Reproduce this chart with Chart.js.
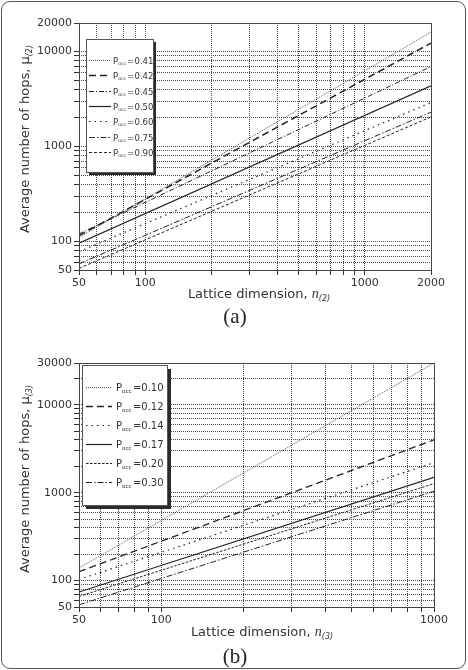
<!DOCTYPE html>
<html>
<head>
<meta charset="utf-8">
<script src="https://cdn.jsdelivr.net/npm/chart.js"></script>
<style>
  body { margin: 0; background: #fff; }
  #page { position: relative; width: 468px; height: 670px; overflow: hidden; font-family: 'DejaVu Sans', sans-serif; color: #333; }
  #outline { position: absolute; left: 1px; top: 1px; width: 463px; height: 666px; border: 1.5px solid #555; border-radius: 9px; }
  canvas { position: absolute; left: 0; }
  .ytitle { position: absolute; transform: translate(-50%, -50%) rotate(-90deg); white-space: nowrap; font-size: 13px; }
  .xtitle { position: absolute; transform: translateX(-50%); white-space: nowrap; font-size: 13px; line-height: 15px; }
  .ytitle sub, .xtitle sub { font-size: 8px; font-style: italic; vertical-align: -3px; }
  .xtitle i { font-family: 'Liberation Serif', serif; font-size: 14px; }
  .panel { position: absolute; transform: translateX(-50%); font-family: 'Liberation Serif', serif; font-size: 21px; line-height: 22px; color: #222; }
</style>
</head>
<body>
<div id="page">
  <canvas id="chartA" width="468" height="300" style="top:0"></canvas>
  <canvas id="chartB" width="468" height="370" style="top:300px"></canvas>
  <div class="ytitle" style="left:25px; top:139px">Average number of hops, &mu;<sub>(2)</sub></div>
  <div class="xtitle" style="left:259px; top:286px">Lattice dimension, <i>n</i><sub>(2)</sub></div>
  <div class="panel" style="left:235px; top:305px">(a)</div>
  <div class="ytitle" style="left:25px; top:479px">Average number of hops, &mu;<sub>(3)</sub></div>
  <div class="xtitle" style="left:262px; top:624px">Lattice dimension, <i>n</i><sub>(3)</sub></div>
  <div class="panel" style="left:235px; top:645px">(b)</div>
  <div id="outline"></div>
</div>
<script>
// (a) two-dimensional lattice
var nA = [50, 2000]
var poccA = ['0.41', '0.42', '0.45', '0.50', '0.60', '0.75', '0.90']
var hopsA_041 = [110, 16000]
var hopsA_042 = [115, 12300]
var hopsA_045 = [120, 6950]
var hopsA_050 = [96, 4350]
var hopsA_060 = [78, 2900]
var hopsA_075 = [58, 2300]
var hopsA_090 = [52, 2050]
var xTicksA = [50, 60, 70, 80, 90, 100, 200, 300, 400, 500, 600, 700, 800, 900, 1000, 2000]
var xLabelsA = [50, 100, 1000, 2000]
var yTicksA = [50, 60, 70, 80, 90, 100, 200, 300, 400, 500, 600, 700, 800, 900,
  1000, 2000, 3000, 4000, 5000, 6000, 7000, 8000, 9000, 10000, 20000]
var yLabelsA = [50, 100, 1000, 10000, 20000]

// (b) three-dimensional lattice
var nB = [50, 1000]
var poccB = ['0.10', '0.12', '0.14', '0.17', '0.20', '0.30']
var hopsB_010 = [139, 30000]
var hopsB_012 = [126, 4000]
var hopsB_014 = [103, 2200]
var hopsB_017 = [74, 1500]
var hopsB_020 = [66, 1270]
var hopsB_030 = [53, 1040]
var xTicksB = [50, 60, 70, 80, 90, 100, 200, 300, 400, 500, 600, 700, 800, 900, 1000]
var xLabelsB = [50, 100, 1000]
var yTicksB = [50, 60, 70, 80, 90, 100, 200, 300, 400, 500, 600, 700, 800, 900,
  1000, 2000, 3000, 4000, 5000, 6000, 7000, 8000, 9000, 10000, 20000, 30000]
var yLabelsB = [50, 100, 1000, 10000, 30000]

function points(xs, ys) {
  return xs.map(function(x, i) { return {x: x, y: ys[i]} })
}

function series(label, xs, ys, dash, color, width) {
  return {
    label: label,
    data: points(xs, ys),
    showLine: true,
    pointRadius: 0,
    borderColor: color,
    borderWidth: width,
    borderDash: dash,
    fill: false
  }
}

var framePlugin = {
  id: 'frame',
  afterDatasetsDraw: function(chart) {
    var a = chart.chartArea, ctx = chart.ctx
    ctx.save()
    ctx.strokeStyle = '#444'
    ctx.lineWidth = 1
    ctx.setLineDash([])
    ctx.strokeRect(Math.round(a.left) + 0.5, Math.round(a.top) + 0.5,
      Math.round(a.right - a.left), Math.round(a.bottom - a.top))
    ctx.restore()
  }
}

var boxLegendPlugin = {
  id: 'boxLegend',
  afterDraw: function(chart, args, o) {
    var ctx = chart.ctx, a = chart.chartArea
    var x = a.left + o.dx, y = a.top + o.dy
    ctx.save()
    ctx.fillStyle = '#2a2a2a'
    ctx.fillRect(x + o.shadow, y + o.shadow, o.w, o.h)
    ctx.fillStyle = '#fff'
    ctx.fillRect(x, y, o.w, o.h)
    ctx.strokeStyle = '#555'
    ctx.lineWidth = 1
    ctx.strokeRect(x + 0.5, y + 0.5, o.w, o.h)
    chart.data.datasets.forEach(function(ds, i) {
      var cy = Math.round(y + o.first + i * o.gap) + 0.5
      ctx.beginPath()
      ctx.setLineDash(ds.borderDash)
      ctx.strokeStyle = ds.borderColor
      ctx.lineWidth = ds.borderWidth
      ctx.moveTo(x + o.lineX0, cy)
      ctx.lineTo(x + o.lineX1, cy)
      ctx.stroke()
      ctx.setLineDash([])
      ctx.fillStyle = '#333'
      ctx.textBaseline = 'alphabetic'
      var tx = x + o.textX, base = cy + o.size * 0.36
      ctx.font = o.size + 'px "DejaVu Sans"'
      ctx.fillText('P', tx, base)
      tx += ctx.measureText('P').width
      ctx.font = (o.size * 0.55) + 'px "DejaVu Sans"'
      ctx.fillText('occ', tx, base + o.size * 0.2)
      tx += ctx.measureText('occ').width + o.size * 0.15
      ctx.font = o.size + 'px "DejaVu Sans"'
      ctx.fillText('=' + ds.label, tx, base)
    })
    ctx.restore()
  }
}

function logAxis(ticks, labels, min, max, fit) {
  return {
    type: 'logarithmic',
    min: min,
    max: max,
    afterBuildTicks: function(scale) {
      scale.ticks = ticks.map(function(v) { return {value: v} })
    },
    afterFit: fit,
    ticks: {
      autoSkip: false,
      maxRotation: 0,
      padding: 2,
      color: '#333',
      font: {family: 'DejaVu Sans', size: 11},
      callback: function(v) { return labels.indexOf(v) >= 0 ? String(v) : '' }
    },
    grid: {
      color: '#4a4a4a',
      lineWidth: 1,
      drawTicks: true,
      tickLength: 5,
      tickColor: '#333',
      tickWidth: 1,
      tickBorderDash: []
    },
    border: {display: false, dash: [1, 1]}
  }
}

function makeChart(id, datasets, xAxis, yAxis, padding, legend) {
  return new Chart(document.getElementById(id), {
    type: 'scatter',
    data: {datasets: datasets},
    options: {
      responsive: false,
      animation: false,
      layout: {padding: padding},
      scales: {x: xAxis, y: yAxis},
      plugins: {
        legend: {display: false},
        tooltip: {enabled: false},
        boxLegend: legend
      }
    },
    plugins: [framePlugin, boxLegendPlugin]
  })
}

var dark = '#222'

makeChart('chartA', [
  series(poccA[0], nA, hopsA_041, [1, 1], '#555', 1),
  series(poccA[1], nA, hopsA_042, [7, 4], dark, 1.5),
  series(poccA[2], nA, hopsA_045, [5, 2, 1, 2], dark, 1),
  series(poccA[3], nA, hopsA_050, [], dark, 1.2),
  series(poccA[4], nA, hopsA_060, [1.5, 4], dark, 1.2),
  series(poccA[5], nA, hopsA_075, [6, 2, 1.5, 2], dark, 1),
  series(poccA[6], nA, hopsA_090, [3, 2], dark, 1)
],
  logAxis(xTicksA, xLabelsA, 50, 2000, function(s) { s.height = 30 }),
  logAxis(yTicksA, yLabelsA, 50, 20000, function(s) { s.width = 79 }),
  {left: 0, right: 37, top: 23, bottom: 0},
  {dx: 7, dy: 16, w: 67, h: 133, shadow: 3, first: 21, gap: 15.3,
   lineX0: 3, lineX1: 25, textX: 27, size: 8.5})

makeChart('chartB', [
  series(poccB[0], nB, hopsB_010, [1, 1], '#555', 1),
  series(poccB[1], nB, hopsB_012, [7, 4], dark, 1.3),
  series(poccB[2], nB, hopsB_014, [1.5, 4], dark, 1.2),
  series(poccB[3], nB, hopsB_017, [], dark, 1.2),
  series(poccB[4], nB, hopsB_020, [2.5, 1.5], dark, 1),
  series(poccB[5], nB, hopsB_030, [6, 2, 1.5, 2], dark, 1)
],
  logAxis(xTicksB, xLabelsB, 50, 1000, function(s) { s.height = 63 }),
  logAxis(yTicksB, yLabelsB, 50, 30000, function(s) { s.width = 79 }),
  {left: 0, right: 34, top: 63, bottom: 0},
  {dx: 3, dy: 2, w: 85, h: 140, shadow: 4, first: 21.7, gap: 19,
   lineX0: 4, lineX1: 30, textX: 34, size: 10})
</script>
</body>
</html>
